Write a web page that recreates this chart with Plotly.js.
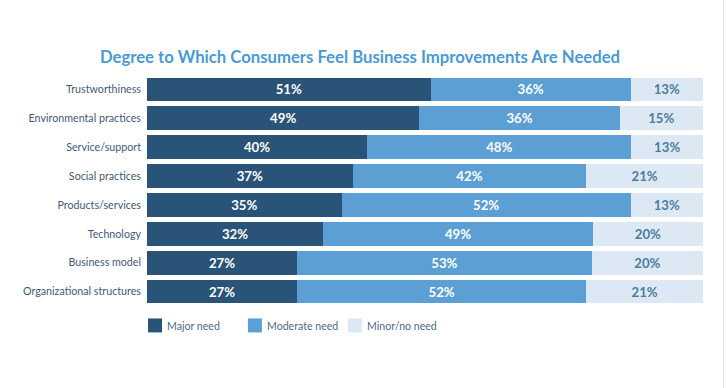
<!DOCTYPE html>
<html>
<head>
<meta charset="utf-8">
<script src="https://cdn.plot.ly/plotly-3.0.1.min.js"></script>
<style>
  html, body { margin: 0; padding: 0; background: #fff; }
  #chart { width: 726px; height: 388px; }
  #edge { position: absolute; left: 723px; top: 0; width: 1px; height: 388px; background: #e4e4e4; }
</style>
</head>
<body>
<div id="chart"></div>
<div id="edge"></div>
<script>
const categories = [
  "Trustworthiness",
  "Environmental practices",
  "Service/support",
  "Social practices",
  "Products/services",
  "Technology",
  "Business model",
  "Organizational structures"
];
const seriesNames = ["Major need", "Moderate need", "Minor/no need"];
const majorNeed    = [51, 49, 40, 37, 35, 32, 27, 27];
const moderateNeed = [36, 36, 48, 42, 52, 49, 53, 52];
const minorNeed    = [13, 15, 13, 21, 13, 20, 20, 21];

const colors = ["#295477", "#5b9fd5", "#dce9f5"];
const textColors = ["#ffffff", "#ffffff", "#4e7c9b"];
const FONT = "Lato, 'Open Sans', sans-serif";

const seriesValues = [majorNeed, moderateNeed, minorNeed];
const traces = seriesValues.map((vals, i) => ({
  type: "bar",
  orientation: "h",
  name: seriesNames[i],
  y: categories,
  x: vals,
  text: vals.map(v => v + "%"),
  textposition: "inside",
  insidetextanchor: "middle",
  textangle: 0,
  textfont: { family: FONT, size: 13.2, color: textColors[i], weight: "bold" },
  marker: { color: colors[i], line: { width: 0 } },
  hoverinfo: "none",
  showlegend: false
}));

// custom legend built from series names
const shapes = [];
const annotations = [];
const legX = [148, 248, 348];
seriesNames.forEach((n, i) => {
  shapes.push({
    type: "rect", xref: "paper", yref: "paper",
    x0: (legX[i] - 147) / 556.5, x1: (legX[i] + 14 - 147) / 556.5,
    y0: -(319 - 306.5) / 232, y1: -(333 - 306.5) / 232,
    fillcolor: colors[i], line: { width: 0 }
  });
  annotations.push({
    xref: "paper", yref: "paper",
    x: (legX[i] + 17 - 147) / 556.5, y: -(326.5 - 306.5) / 232,
    xanchor: "left", yanchor: "middle", showarrow: false,
    text: n, font: { family: FONT, size: 10.6, color: "#4d6a86" }
  });
});

const layout = {
  width: 726, height: 388,
  margin: { l: 147, r: 22.5, t: 74.5, b: 81.5, pad: 0 },
  paper_bgcolor: "#ffffff", plot_bgcolor: "#ffffff",
  barmode: "stack",
  barnorm: "percent",
  bargap: 0.18,
  title: {
    text: "<b>Degree to Which Consumers Feel Business Improvements Are Needed</b>",
    font: { family: FONT, size: 16.7, color: "#4a9ad6" },
    x: 360 / 726, xanchor: "center", xref: "container",
    y: 1 - 57 / 388, yanchor: "middle", yref: "container"
  },
  xaxis: { range: [0, 100], visible: false, fixedrange: true },
  yaxis: {
    autorange: "reversed", type: "category",
    showgrid: false, zeroline: false, showline: false, ticks: "",
    ticklabelstandoff: 5,
    tickfont: { family: FONT, size: 10.7, color: "#3f5a76" }
  },
  shapes: shapes,
  annotations: annotations,
  showlegend: false,
  uniformtext: { mode: false }
};

Plotly.newPlot("chart", traces, layout, { displayModeBar: false, staticPlot: true });
</script>
</body>
</html>
